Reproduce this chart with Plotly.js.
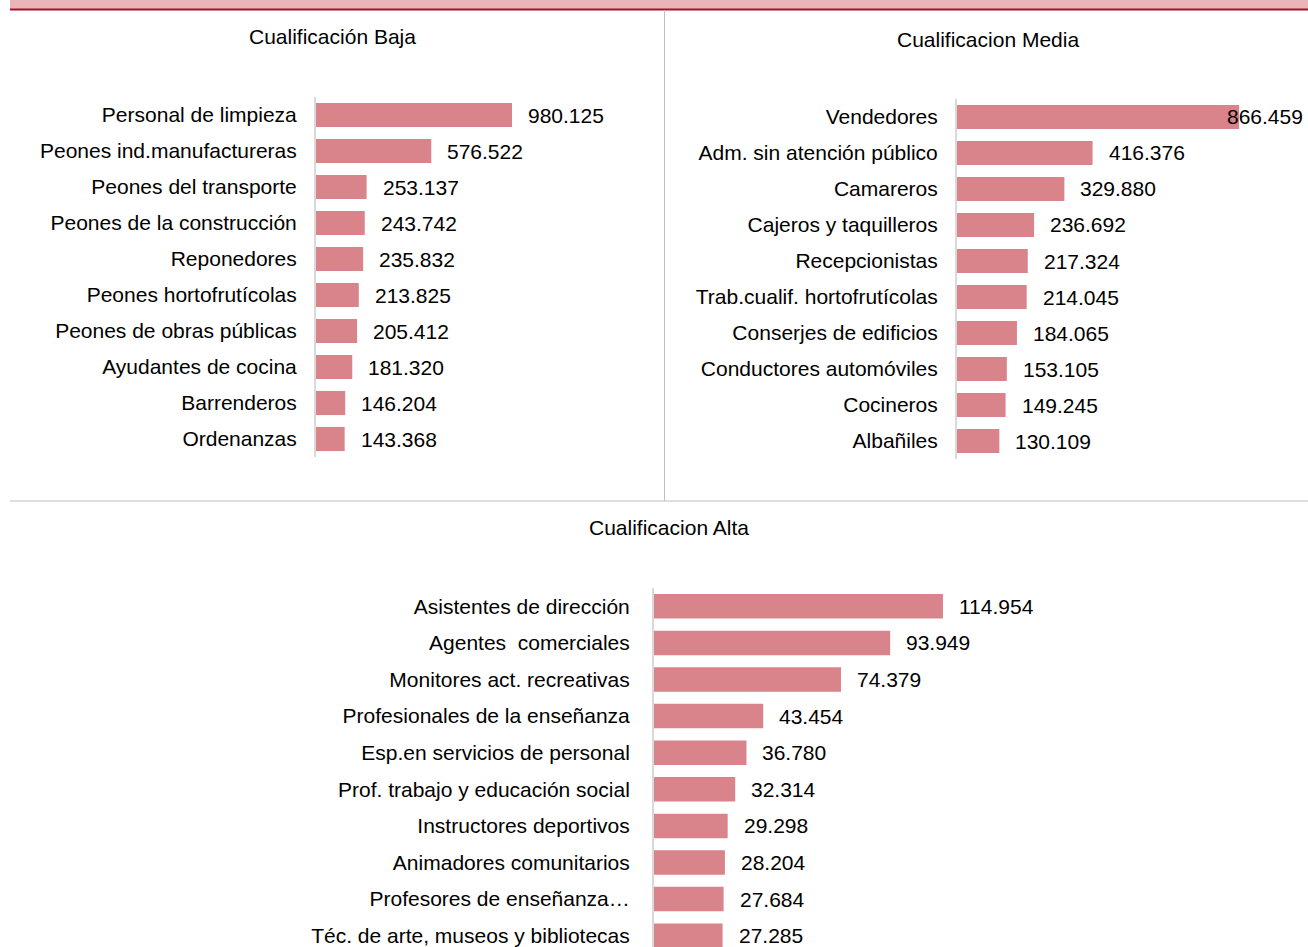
<!DOCTYPE html>
<html>
<head>
<meta charset="utf-8">
<script src="https://cdn.plot.ly/plotly-3.0.1.min.js"></script>
<style>html,body{margin:0;padding:0;background:#fff;}#chart{width:1308px;height:947px;}</style>
</head>
<body>
<div id="chart"></div>
<script>
const bajaCats = ["Personal de limpieza","Peones ind.manufactureras","Peones del transporte","Peones de la construcción","Reponedores","Peones hortofrutícolas","Peones de obras públicas","Ayudantes de cocina","Barrenderos","Ordenanzas"];
const bajaVals = [980125,576522,253137,243742,235832,213825,205412,181320,146204,143368];

const mediaCats = ["Vendedores","Adm. sin atención público","Camareros","Cajeros y taquilleros","Recepcionistas","Trab.cualif. hortofrutícolas","Conserjes de edificios","Conductores automóviles","Cocineros","Albañiles"];
const mediaVals = [866459,416376,329880,236692,217324,214045,184065,153105,149245,130109];

const altaCats = ["Asistentes de dirección","Agentes  comerciales","Monitores act. recreativas","Profesionales de la enseñanza","Esp.en servicios de personal","Prof. trabajo y educación social","Instructores deportivos","Animadores comunitarios","Profesores de enseñanza…","Téc. de arte, museos y bibliotecas"];
const altaVals = [114954,93949,74379,43454,36780,32314,29298,28204,27684,27285];

const panelTitles = ["Cualificación Baja","Cualificacion Media","Cualificacion Alta"];

const W = 1308, H = 947;
const BAR = "#D9838B";
const FONT = "Liberation Sans, Arial, sans-serif";
const FS = 21;

function fmt(v){
  return String(v).replace(/\B(?=(\d{3})+(?!\d))/g, ".");
}
function px(x){ return x / W; }
function py(y){ return 1 - y / H; }

function barTrace(cats, vals, xa, ya){
  return {
    type: "bar", orientation: "h",
    x: vals, y: cats,
    xaxis: xa, yaxis: ya,
    marker: {color: BAR, line: {width: 0}},
    width: 0.67,
    hoverinfo: "skip",
    showlegend: false
  };
}

const traces = [
  barTrace(bajaCats, bajaVals, "x", "y"),
  barTrace(mediaCats, mediaVals, "x2", "y2"),
  barTrace(altaCats, altaVals, "x3", "y3")
];

function xAxis(l, r, range, anchor){
  return {domain: [px(l), px(r)], range: range, anchor: anchor,
          showgrid: false, zeroline: false, showticklabels: false, showline: false, ticks: "", fixedrange: true};
}
function yAxis(t, b, anchor, standoff, range){
  const ax = {domain: [Math.max(0, py(b)), py(t)], anchor: anchor, type: "category",
          showgrid: false, zeroline: false, showline: true, linecolor: "#D9D9D9", linewidth: 2,
          ticks: "", ticklabelstandoff: standoff,
          tickfont: {family: FONT, size: FS, color: "#000"}, fixedrange: true};
  if (range) ax.range = range; else ax.autorange = "reversed";
  return ax;
}

const annotations = [];
function addValues(cats, vals, xr, yr, clampIdx){
  cats.forEach((c,i)=>{
    const over = (i === clampIdx);
    annotations.push({
      x: vals[i], y: c, xref: xr, yref: yr, text: fmt(vals[i]),
      showarrow: false, xanchor: "left", yanchor: "middle",
      xshift: over ? -14 : 14,
      font: {family: FONT, size: FS, color: "#000"}
    });
  });
}
addValues(bajaCats, bajaVals, "x", "y", -1);
addValues(mediaCats, mediaVals, "x2", "y2", 0);
addValues(altaCats, altaVals, "x3", "y3", -1);

const titlePos = [[332, 37],[988, 39],[669, 527]];
panelTitles.forEach((t,i)=>{
  annotations.push({text: t, xref: "paper", yref: "paper", x: px(titlePos[i][0]), y: py(titlePos[i][1]),
    xanchor: "center", yanchor: "middle", showarrow: false,
    font: {family: FONT, size: FS, color: "#000"}});
});

const shapes = [
  {type: "rect", xref: "paper", yref: "paper", x0: px(10), x1: 1, y0: py(9), y1: 1, fillcolor: "#EAB4B9", line: {width: 0}},
  {type: "line", xref: "paper", yref: "paper", x0: px(10), x1: 1, y0: py(9.5), y1: py(9.5), line: {color: "#A50F28", width: 2}},
  {type: "line", xref: "paper", yref: "paper", x0: px(664.5), x1: px(664.5), y0: py(10), y1: py(501), line: {color: "#BFBFBF", width: 1}},
  {type: "line", xref: "paper", yref: "paper", x0: px(10), x1: 1, y0: py(501), y1: py(501), line: {color: "#BFBFBF", width: 1}}
];

// Alta panel: band height ~36.6 px, starting at y=588, clipped by page bottom
const altaBottomIdx = -0.5 + (H - 588) / 36.6;

const layout = {
  width: W, height: H,
  margin: {l: 0, r: 0, t: 0, b: 0, pad: 0},
  paper_bgcolor: "#fff", plot_bgcolor: "rgba(0,0,0,0)",
  bargap: 0.33,
  font: {family: FONT, color: "#000"},
  xaxis: xAxis(316, 640, [0, 1620000], "y"),
  yaxis: yAxis(97, 457, "x", 13),
  xaxis2: xAxis(957, 1308, [0, 1078000], "y2"),
  yaxis2: yAxis(99, 459, "x2", 13),
  xaxis3: xAxis(654, 1200, [0, 217200], "y3"),
  yaxis3: yAxis(588, H, "x3", 18, [altaBottomIdx, -0.5]),
  annotations: annotations,
  shapes: shapes
};

Plotly.newPlot("chart", traces, layout, {displayModeBar: false, staticPlot: true});
</script>
</body>
</html>
